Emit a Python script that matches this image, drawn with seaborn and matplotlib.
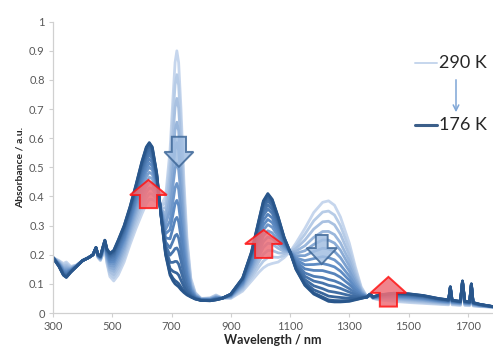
import numpy as np
import pandas as pd
import seaborn as sns
import matplotlib.pyplot as plt
from matplotlib.patches import Polygon

# Wavelength grid (nm) and the two end spectra
wavelength = [300, 320, 335, 345, 360, 380, 400, 420, 435, 445, 452, 460, 468, 475, 482, 492,
              505, 520, 540, 560, 580, 600, 615, 625, 635, 650, 665, 680, 695, 705, 712, 718,
              724, 732, 742, 752, 765, 780, 800, 830, 850, 870, 900, 940, 970, 995, 1010, 1025,
              1040, 1060, 1080, 1100, 1120, 1150, 1180, 1210, 1230, 1250, 1270, 1300, 1320, 1340,
              1360, 1370, 1380, 1400, 1450, 1500, 1550, 1600, 1635, 1641, 1647, 1675, 1682, 1690,
              1706, 1712, 1718, 1740, 1785]

abs_290K = [0.19, 0.18, 0.17, 0.175, 0.16, 0.165, 0.18, 0.19, 0.20, 0.22, 0.19, 0.18, 0.20, 0.22, 0.17, 0.125,
            0.11, 0.13, 0.175, 0.235, 0.29, 0.34, 0.375, 0.39, 0.39, 0.38, 0.37, 0.40, 0.56, 0.74, 0.86, 0.90,
            0.86, 0.70, 0.45, 0.26, 0.12, 0.07, 0.05, 0.052, 0.062, 0.052, 0.05, 0.075, 0.11, 0.14, 0.155, 0.165,
            0.17, 0.175, 0.19, 0.21, 0.24, 0.29, 0.345, 0.38, 0.385, 0.37, 0.33, 0.24, 0.16, 0.09,
            0.055, 0.06, 0.05, 0.045, 0.04, 0.036, 0.033, 0.03, 0.028, 0.08, 0.028, 0.026, 0.10, 0.026,
            0.025, 0.09, 0.024, 0.022, 0.02]

abs_176K = [0.19, 0.16, 0.13, 0.122, 0.14, 0.16, 0.18, 0.19, 0.20, 0.225, 0.20, 0.195, 0.225, 0.25, 0.22, 0.205,
            0.215, 0.25, 0.30, 0.365, 0.44, 0.52, 0.57, 0.585, 0.57, 0.48, 0.33, 0.20, 0.13, 0.11, 0.10, 0.095,
            0.09, 0.08, 0.07, 0.062, 0.055, 0.048, 0.043, 0.042, 0.045, 0.05, 0.065, 0.12, 0.21, 0.32, 0.385, 0.41,
            0.39, 0.33, 0.26, 0.21, 0.15, 0.095, 0.065, 0.05, 0.04, 0.038, 0.038, 0.04, 0.045, 0.05,
            0.055, 0.065, 0.055, 0.062, 0.068, 0.066, 0.06, 0.05, 0.045, 0.09, 0.044, 0.04, 0.11, 0.04,
            0.038, 0.10, 0.036, 0.03, 0.022]

temperatures = [290, 282, 274, 266, 258, 250, 242, 234, 226, 218, 210, 202, 194, 185, 176]
peak_1230 = [0.385, 0.35, 0.315, 0.28, 0.25, 0.22, 0.19, 0.165, 0.14, 0.115, 0.095, 0.075, 0.058, 0.045, 0.04]

hot = np.array(abs_290K)
cold = np.array(abs_176K)
i1230 = wavelength.index(1230)
rows = []
for T, h in zip(temperatures, peak_1230):
    w = (hot[i1230] - h) / (hot[i1230] - cold[i1230])
    spec = hot * (1 - w) + cold * w
    for wl, a in zip(wavelength, spec):
        rows.append((T, wl, a))
df = pd.DataFrame(rows, columns=['T', 'Wavelength', 'Absorbance'])

sns.set_style("white")
plt.rcParams['font.family'] = ['Lato', 'DejaVu Sans']

fig = plt.figure(figsize=(4.93, 3.51), dpi=100)
W, H = 493, 351
ax = fig.add_axes([53 / W, 38 / H, 1 - 53 / W, (313 - 21.7) / H])

colors = sns.blend_palette(['#c6d6ed', '#5f8cc4', '#29568b'], len(temperatures))
pal = dict(zip(temperatures, colors))
sns.lineplot(data=df, x='Wavelength', y='Absorbance', hue='T', hue_order=temperatures,
             palette=pal, legend=False, linewidth=2.0, estimator=None, sort=False, ax=ax)

# block arrows: (centre, base, head line, tip, shaft half width, head half width, kind)
arrows = [(622, 0.36, 0.405, 0.457, 29, 62, 'up'),
          (725, 0.605, 0.553, 0.502, 24, 49, 'down'),
          (1011, 0.189, 0.237, 0.285, 29, 63, 'up'),
          (1207, 0.268, 0.223, 0.168, 20, 51, 'down'),
          (1432, 0.022, 0.069, 0.124, 29, 60, 'up')]
for cx, y0, y1, y2, sw, hw, kind in arrows:
    pts = [(cx - sw, y0), (cx + sw, y0), (cx + sw, y1), (cx + hw, y1), (cx, y2),
           (cx - hw, y1), (cx - sw, y1)]
    if kind == 'up':
        p = Polygon(pts, closed=True, facecolor='#ee6f78', edgecolor='#ff1414', alpha=0.85, lw=1.4, zorder=5)
    else:
        p = Polygon(pts, closed=True, facecolor='#a3bfe2', edgecolor='#3f6898', alpha=0.85, lw=1.4, zorder=5)
    ax.add_patch(p)

ax.set_xlim(300, 1785)
ax.set_ylim(0, 1)
ax.set_xticks(range(300, 1701, 200))
ax.set_yticks(np.round(np.arange(0, 1.01, 0.1), 1))
ax.set_yticklabels([f"{v:g}" for v in np.round(np.arange(0, 1.01, 0.1), 1)])
ax.tick_params(axis='both', length=3, width=0.8, color='#d0d0d0', labelcolor='#595959',
               labelsize=8, pad=3, bottom=True, left=True)
sns.despine(ax=ax)
for s in ['left', 'bottom']:
    ax.spines[s].set_color('#d0d0d0')
    ax.spines[s].set_linewidth(0.9)
ax.set_xlabel('Wavelength / nm', fontsize=9, fontweight='bold', color='#262626', labelpad=1)
ax.set_ylabel('Absorbance / a.u.', fontsize=7.5, fontweight='bold', color='#262626', labelpad=3)

# temperature key
fig.add_artist(plt.Line2D([415 / W, 437 / W], [1 - 63 / H, 1 - 63 / H], color=colors[0], lw=1.4))
fig.add_artist(plt.Line2D([415 / W, 437 / W], [1 - 125 / H, 1 - 125 / H], color='#3c5f8a', lw=2.2))
fig.text(439 / W, 1 - 63 / H, '290 K', fontsize=13, va='center', ha='left', color='#262626')
fig.text(439 / W, 1 - 125 / H, '176 K', fontsize=13, va='center', ha='left', color='#262626')
ax.annotate('', xy=(456 / W, 1 - 115 / H), xytext=(456 / W, 1 - 77 / H), xycoords='figure fraction',
            arrowprops=dict(arrowstyle='->', color='#7fa6d6', lw=1.1))

fig.savefig('out.png', dpi=100)
